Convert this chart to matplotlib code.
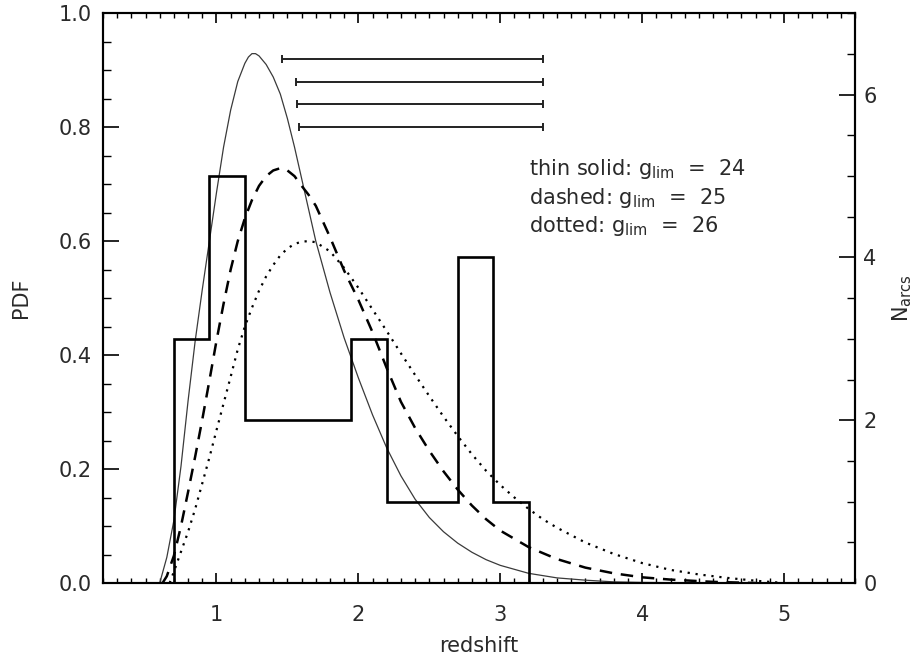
import matplotlib
matplotlib.use("Agg")
import matplotlib.pyplot as plt
from matplotlib.ticker import MultipleLocator, FormatStrFormatter

# Model redshift PDFs for three limiting magnitudes
sol_z = [0.60, 0.65, 0.70, 0.75, 0.80, 0.85, 0.90, 0.95, 1.00, 1.05, 1.10, 1.15, 1.20, 1.225,
         1.25, 1.275, 1.30, 1.35, 1.40, 1.45, 1.50, 1.55, 1.60, 1.70, 1.80, 1.90, 2.00, 2.10,
         2.20, 2.30, 2.40, 2.50, 2.60, 2.70, 2.80, 2.90, 3.00, 3.20, 3.40, 3.60, 3.80, 4.00, 4.50]
sol_p = [0.00, 0.045, 0.11, 0.205, 0.32, 0.425, 0.515, 0.60, 0.685, 0.765, 0.83, 0.88, 0.912, 0.923,
         0.929, 0.929, 0.925, 0.91, 0.888, 0.858, 0.815, 0.765, 0.71, 0.60, 0.51, 0.43, 0.36, 0.295,
         0.237, 0.188, 0.147, 0.115, 0.09, 0.07, 0.054, 0.041, 0.031, 0.017, 0.009, 0.005, 0.002, 0.001, 0.0]

das_z = [0.62, 0.65, 0.70, 0.75, 0.80, 0.85, 0.90, 0.95, 1.00, 1.05, 1.10, 1.15, 1.20, 1.25,
         1.30, 1.35, 1.40, 1.45, 1.50, 1.55, 1.60, 1.65, 1.70, 1.80, 1.90, 2.00, 2.10, 2.20,
         2.30, 2.40, 2.50, 2.60, 2.70, 2.80, 2.90, 3.00, 3.20, 3.40, 3.60, 3.80, 4.00, 4.20,
         4.50, 4.80]
das_p = [0.00, 0.012, 0.048, 0.10, 0.16, 0.222, 0.287, 0.355, 0.425, 0.49, 0.55, 0.60, 0.64, 0.672,
         0.697, 0.714, 0.724, 0.728, 0.724, 0.714, 0.697, 0.681, 0.662, 0.607, 0.548, 0.497, 0.44, 0.377,
         0.318, 0.272, 0.232, 0.196, 0.164, 0.136, 0.112, 0.092, 0.063, 0.042, 0.027, 0.017, 0.010, 0.006,
         0.002, 0.0]

dot_z = [0.67, 0.70, 0.75, 0.80, 0.85, 0.90, 0.95, 1.00, 1.05, 1.10, 1.15, 1.20, 1.25, 1.30,
         1.35, 1.40, 1.45, 1.50, 1.55, 1.60, 1.65, 1.70, 1.80, 1.90, 2.00, 2.10, 2.20, 2.30,
         2.40, 2.50, 2.60, 2.70, 2.80, 2.90, 3.00, 3.10, 3.20, 3.30, 3.40, 3.60, 3.80, 4.00,
         4.20, 4.40, 4.60, 4.80, 5.00]
dot_p = [0.00, 0.02, 0.055, 0.09, 0.13, 0.175, 0.22, 0.268, 0.315, 0.362, 0.41, 0.45, 0.483, 0.513,
         0.538, 0.558, 0.575, 0.587, 0.595, 0.599, 0.60, 0.598, 0.582, 0.553, 0.518, 0.48, 0.442, 0.403,
         0.365, 0.328, 0.292, 0.258, 0.226, 0.197, 0.172, 0.15, 0.13, 0.112, 0.097, 0.071, 0.051, 0.035,
         0.023, 0.015, 0.009, 0.004, 0.0]

# Observed arcs per redshift bin
bin_edges = [0.70, 0.95, 1.20, 1.45, 1.70, 1.95, 2.20, 2.45, 2.70, 2.95, 3.20]
n_arcs = [3, 5, 2, 2, 2, 3, 1, 1, 4, 1]

# Horizontal range bars near the top
bar_lo = [1.46, 1.56, 1.57, 1.58]
bar_hi = [3.30, 3.30, 3.30, 3.30]
bar_y = [0.92, 0.88, 0.84, 0.80]

legend_lines = [r"thin solid: $\mathregular{g_{lim}}$  =  24",
                r"dashed: $\mathregular{g_{lim}}$  =  25",
                r"dotted: $\mathregular{g_{lim}}$  =  26"]

txt = "#2a2a2a"
plt.rcParams["font.family"] = "DejaVu Sans"

fig, ax = plt.subplots(figsize=(9.16, 6.59), dpi=100)
fig.subplots_adjust(left=0.1124, right=0.9334, bottom=0.1153, top=0.980)

ax.plot(sol_z, sol_p, color="#3a3a3a", lw=0.9)
ax.plot(das_z, das_p, color="k", lw=1.8, linestyle=(0, (5, 3.5)))
ax.plot(dot_z, dot_p, color="k", lw=1.6, linestyle=(0, (1, 2.6)))

mid = [(a + b) / 2 for a, b in zip(bar_lo, bar_hi)]
half = [(b - a) / 2 for a, b in zip(bar_lo, bar_hi)]
ax.errorbar(mid, bar_y, xerr=half, fmt="none", ecolor="#222222",
            elinewidth=1.4, capsize=2.6, capthick=1.4)

for i, line in enumerate(legend_lines):
    ax.text(3.2, 0.716 - i * 0.05, line, fontsize=15, color=txt, va="baseline")

ax.set_xlim(0.2, 5.5)
ax.set_ylim(0, 1.0)
ax.xaxis.set_major_locator(MultipleLocator(1))
ax.xaxis.set_minor_locator(MultipleLocator(0.1))
ax.yaxis.set_major_locator(MultipleLocator(0.2))
ax.yaxis.set_minor_locator(MultipleLocator(0.05))
ax.yaxis.set_major_formatter(FormatStrFormatter("%.1f"))
ax.tick_params(axis="x", which="both", direction="in", top=True, labelsize=15,
               labelcolor=txt, pad=16)
ax.tick_params(axis="x", which="major", length=7.5, width=1.2)
ax.tick_params(axis="x", which="minor", length=3.8, width=1.0)
ax.tick_params(axis="y", which="both", direction="in", right=False, labelsize=15,
               labelcolor=txt, pad=8)
ax.tick_params(axis="y", which="major", length=11.5, width=1.2)
ax.tick_params(axis="y", which="minor", length=6, width=1.0)
ax.set_xlabel("redshift", fontsize=15, color=txt, labelpad=8)
ax.set_ylabel("PDF", fontsize=15, color=txt, labelpad=20)

ax2 = ax.twinx()
ax2.stairs(n_arcs, bin_edges, color="k", lw=1.9, baseline=0)
ax2.set_ylim(0, 7)
ax2.yaxis.set_major_locator(MultipleLocator(2))
ax2.yaxis.set_minor_locator(MultipleLocator(0.5))
ax2.tick_params(axis="y", which="both", direction="in", labelsize=15,
                labelcolor=txt, pad=6)
ax2.tick_params(axis="y", which="major", length=11.5, width=1.2)
ax2.tick_params(axis="y", which="minor", length=6, width=1.0)
ax2.set_ylabel(r"$\mathregular{N_{arcs}}$", fontsize=15, color=txt, labelpad=10)

for a in (ax, ax2):
    for s in a.spines.values():
        s.set_linewidth(1.5)

fig.savefig("out.png", dpi=100)
